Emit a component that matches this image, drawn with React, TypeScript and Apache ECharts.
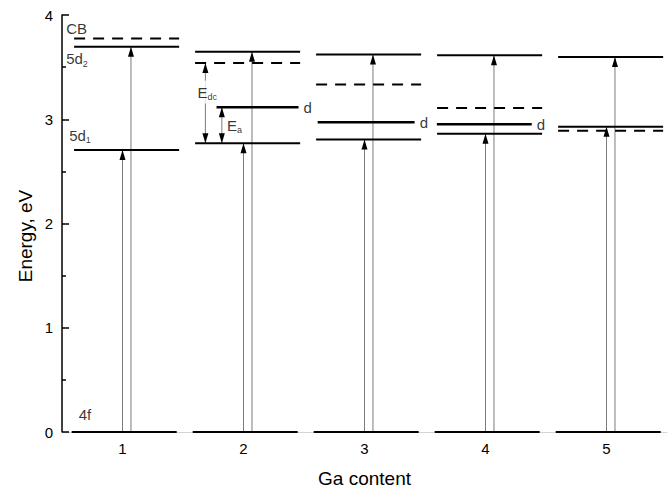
import React, { useEffect, useRef } from 'react';
import * as echarts from 'echarts';

// ---- data ----
const gaContent = [1, 2, 3, 4, 5];
const xTickLabels = ['1', '2', '3', '4', '5'];
const yTickLabels = ['0', '1', '2', '3', '4'];
const level4f = [0, 0, 0, 0, 0];
const level5d1 = [2.705, 2.77, 2.806, 2.86, 2.927];
const level5d2 = [3.695, 3.648, 3.622, 3.615, 3.596];
const levelCB = [3.775, 3.54, 3.333, 3.109, 2.889];
const levelD: (number | null)[] = [null, 3.114, 2.972, 2.953, null];
const levelNames = ['CB', '5d', '5d', '4f', 'E', 'E', 'd'];
const levelSubs = ['', '2', '1', '', 'dc', 'a', ''];
const xAxisTitle = 'Ga content';
const yAxisTitle = 'Energy, eV';

// ---- layout (offsets relative to category, axis units) ----
const BASE_START = -0.42;
const UPPER_START = -0.4;
const LEVEL_WIDTH = 0.868;
const D_START = [0, -0.223, -0.387, -0.402, 0];
const D_END = [0, 0.455, 0.414, 0.382, 0];
const ARROW_A = 0;
const ARROW_B = 0.07;
const EDC_X = -0.315;
const EA_X = -0.179;
const FONT = '"Liberation Sans", Arial, Helvetica, sans-serif';

export default function App() {
  const ref = useRef<HTMLDivElement>(null);
  useEffect(() => {
    if (!ref.current) return;
    const chart = echarts.init(ref.current, null, { renderer: 'svg' });

    const solid: number[][] = [];
    const dashed: number[][] = [];
    const dLines: number[][] = [];
    const arrows: number[][] = [];
    gaContent.forEach((c, i) => {
      solid.push([c + BASE_START, c + BASE_START + LEVEL_WIDTH, level4f[i]]);
      solid.push([c + UPPER_START, c + UPPER_START + LEVEL_WIDTH, level5d1[i]]);
      solid.push([c + UPPER_START, c + UPPER_START + LEVEL_WIDTH, level5d2[i]]);
      dashed.push([c + UPPER_START, c + UPPER_START + LEVEL_WIDTH, levelCB[i]]);
      const d = levelD[i];
      if (d !== null) dLines.push([c + D_START[i], c + D_END[i], d]);
      arrows.push([c + ARROW_A, level4f[i], level5d1[i], 0]);
      arrows.push([c + ARROW_B, level4f[i], level5d2[i], 0]);
    });
    arrows.push([gaContent[1] + EDC_X, level5d1[1], levelCB[1], 1]);
    arrows.push([gaContent[1] + EA_X, level5d1[1], levelD[1] as number, 1]);

    const levelRender = (width: number, dash: number[] | null) => (params: any, api: any) => {
      const p0 = api.coord([api.value(0), api.value(2)]);
      const p1 = api.coord([api.value(1), api.value(2)]);
      return {
        type: 'line',
        shape: { x1: p0[0], y1: p0[1], x2: p1[0], y2: p1[1] },
        style: { stroke: '#000', lineWidth: width, lineDash: dash || undefined, fill: null },
      };
    };

    const HEAD_W = 3;
    const HEAD_L = 10;
    const head = (tx: number, ty: number, s: number) => ({
      type: 'polygon',
      shape: { points: [[tx, ty], [tx - HEAD_W, ty + s * HEAD_L], [tx + HEAD_W, ty + s * HEAD_L]] },
      style: { fill: '#000', stroke: null },
    });
    const arrowRender = (params: any, api: any) => {
      const x = api.value(0);
      const pFrom = api.coord([x, api.value(1)]);
      const pTo = api.coord([x, api.value(2)]);
      const both = api.value(3) === 1;
      const s = pFrom[1] > pTo[1] ? 1 : -1;
      const children: any[] = [
        {
          type: 'line',
          shape: { x1: pFrom[0], y1: pFrom[1], x2: pTo[0], y2: pTo[1] },
          style: { stroke: '#7c7c7c', lineWidth: 1 },
        },
        head(pTo[0], pTo[1], s),
      ];
      if (both) children.push(head(pFrom[0], pFrom[1], -s));
      return { type: 'group', children };
    };

    const rich = {
      m: { fontSize: 15, color: '#000', fontFamily: FONT },
      s: { fontSize: 9, color: '#000', fontFamily: FONT, padding: [10, 0, 0, 0] },
    };
    const txt = (k: number) => `{m|${levelNames[k]}}` + (levelSubs[k] ? `{s|${levelSubs[k]}}` : '');
    const ann: any[] = [
      { v: [gaContent[0] + UPPER_START, levelCB[0]], t: txt(0), off: [-8, -10] },
      { v: [gaContent[0] + UPPER_START, level5d2[0]], t: txt(1), off: [-8, 12] },
      { v: [gaContent[0] + UPPER_START, level5d1[0]], t: txt(2), off: [-5, -15] },
      { v: [gaContent[0] + BASE_START, level4f[0]], t: txt(3), off: [7, -18] },
      { v: [gaContent[1] + EDC_X, (levelCB[1] + level5d1[1]) / 2], t: txt(4), off: [-9, -11], bg: true },
      { v: [gaContent[1] + EA_X, ((levelD[1] as number) + level5d1[1]) / 2], t: txt(5), off: [5, 0] },
    ];
    gaContent.forEach((c, i) => {
      const d = levelD[i];
      if (d !== null) ann.push({ v: [c + D_END[i], d], t: txt(6), off: [5, 0] });
    });

    chart.setOption({
      animation: false,
      textStyle: { fontFamily: FONT },
      grid: { left: 62, right: 4, top: 15, bottom: 57 },
      xAxis: {
        type: 'value',
        min: 0.5,
        max: 5.5,
        interval: 0.5,
        axisLine: { show: true, onZero: false, lineStyle: { color: '#d4d4d4', width: 1 } },
        axisTick: { show: false },
        splitLine: { show: false },
        axisLabel: {
          margin: 9,
          fontSize: 15,
          color: '#000',
          fontFamily: FONT,
          formatter: (v: number) => {
            const i = gaContent.indexOf(v);
            return i >= 0 ? xTickLabels[i] : '';
          },
        },
      },
      yAxis: {
        type: 'value',
        min: 0,
        max: 4,
        interval: 1,
        axisLine: { show: true, lineStyle: { color: '#000', width: 1.5 } },
        axisTick: { show: true, inside: true, length: 7, lineStyle: { color: '#000', width: 1.5 } },
        minorTick: { show: true, splitNumber: 2, length: 4, lineStyle: { color: '#000', width: 1.5 } },
        splitLine: { show: false },
        axisLabel: {
          margin: 9,
          fontSize: 15,
          color: '#000',
          fontFamily: FONT,
          formatter: (v: number) => yTickLabels[Math.round(v)] ?? '',
        },
      },
      graphic: [
        {
          type: 'text',
          x: 25,
          y: 236,
          rotation: Math.PI / 2,
          style: {
            text: yAxisTitle,
            font: `19px ${FONT}`,
            fill: '#000',
            textAlign: 'center',
            textVerticalAlign: 'middle',
            align: 'center',
            verticalAlign: 'middle',
          },
        },
        {
          type: 'text',
          x: 364.5,
          y: 478.5,
          style: {
            text: xAxisTitle,
            font: `19px ${FONT}`,
            fill: '#000',
            textAlign: 'center',
            textVerticalAlign: 'middle',
            align: 'center',
            verticalAlign: 'middle',
          },
        },
      ],
      series: [
        { type: 'custom', name: 'arrows', renderItem: arrowRender, data: arrows, z: 2, silent: true },
        { type: 'custom', name: 'levels', renderItem: levelRender(2, null), data: solid, z: 3, silent: true },
        { type: 'custom', name: 'CB', renderItem: levelRender(2, [11, 8]), data: dashed, z: 3, silent: true },
        { type: 'custom', name: 'd', renderItem: levelRender(2.5, null), data: dLines, z: 3, silent: true },
        {
          type: 'scatter',
          name: 'labels',
          symbolSize: 0.1,
          itemStyle: { color: 'rgba(0,0,0,0)' },
          z: 5,
          silent: true,
          data: ann.map((a) => ({
            value: a.v,
            label: {
              show: true,
              position: 'right',
              distance: 0,
              offset: a.off,
              formatter: a.t,
              rich,
              color: '#000',
              backgroundColor: a.bg ? '#fff' : 'transparent',
              padding: a.bg ? [2, 1, 2, 1] : 0,
            },
          })),
        },
      ],
    });
    return () => chart.dispose();
  }, []);
  return <div ref={ref} style={{ position: 'fixed', left: 0, top: 0, width: 671, height: 489, background: '#fff' }} />;
}
